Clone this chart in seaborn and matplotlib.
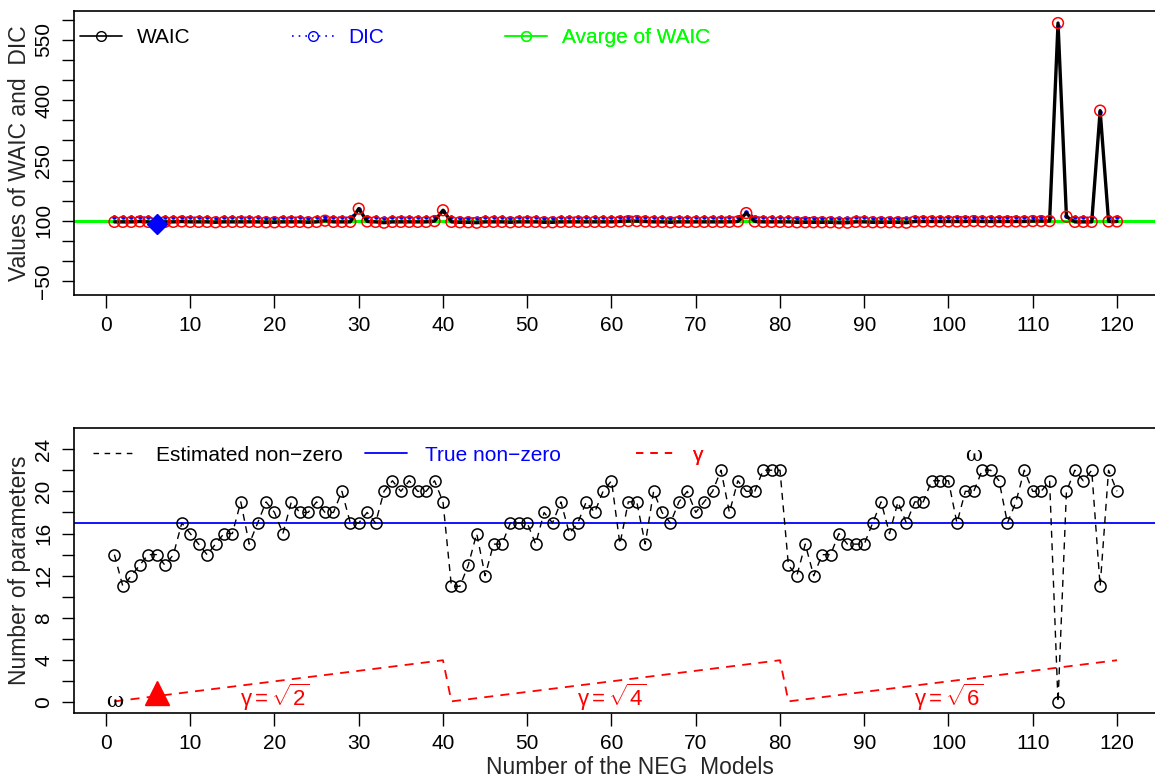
import numpy as np
import pandas as pd
import matplotlib
matplotlib.use("Agg")
import matplotlib.pyplot as plt
import seaborn as sns
from matplotlib.lines import Line2D

# ---------------- data ----------------
models = list(range(1, 121))

waic = [97, 97, 97, 98, 97, 93, 97, 97, 98, 97,
        97, 97, 96, 97, 97, 97, 97, 97, 96, 96,
        97, 97, 97, 96, 97, 100, 97, 97, 97, 130,
        98, 97, 95, 97, 97, 97, 97, 97, 99, 126,
        97, 96, 96, 95, 97, 97, 97, 96, 97, 97,
        97, 96, 96, 97, 97, 97, 97, 97, 97, 97,
        98, 99, 99, 98, 97, 97, 96, 97, 97, 97,
        97, 97, 97, 97, 98, 119, 98, 97, 97, 97,
        97, 96, 96, 96, 96, 96, 95, 95, 97, 97,
        96, 96, 96, 96, 95, 98, 98, 98, 98, 98,
        98, 98, 99, 98, 98, 98, 98, 98, 98, 99,
        99, 99, 592, 110, 97, 97, 97, 374, 98, 98]

dic = [108, 109, 108, 109, 108, 105, 108, 109, 109, 108,
       108, 108, 107, 108, 109, 108, 108, 108, 107, 107,
       108, 108, 108, 107, 108, 110, 108, 108, 108, 128,
       109, 108, 106, 108, 108, 108, 108, 108, 110, 124,
       108, 107, 107, 106, 108, 108, 108, 107, 108, 108,
       108, 107, 107, 108, 108, 108, 108, 108, 108, 108,
       109, 110, 110, 109, 108, 108, 107, 108, 108, 108,
       108, 108, 108, 108, 109, 122, 109, 108, 108, 108,
       108, 107, 107, 107, 107, 107, 106, 106, 108, 108,
       107, 107, 107, 107, 106, 109, 109, 109, 109, 109,
       109, 109, 110, 109, 109, 109, 109, 109, 109, 110,
       110, 110, 585, 112, 108, 108, 108, 370, 109, 109]

avg_waic = 99
best_model = 6
best_waic = 92

est_nonzero = [14, 11, 12, 13, 14, 14, 13, 14, 17, 16,
               15, 14, 15, 16, 16, 19, 15, 17, 19, 18,
               16, 19, 18, 18, 19, 18, 18, 20, 17, 17,
               18, 17, 20, 21, 20, 21, 20, 20, 21, 19,
               11, 11, 13, 16, 12, 15, 15, 17, 17, 17,
               15, 18, 17, 19, 16, 17, 19, 18, 20, 21,
               15, 19, 19, 15, 20, 18, 17, 19, 20, 18,
               19, 20, 22, 18, 21, 20, 20, 22, 22, 22,
               13, 12, 15, 12, 14, 14, 16, 15, 15, 15,
               17, 19, 16, 19, 17, 19, 19, 21, 21, 21,
               17, 20, 20, 22, 22, 21, 17, 19, 22, 20,
               20, 21, 0, 20, 22, 21, 22, 11, 22, 20]
true_nonzero = 17

gamma_x = [1, 40, 41, 80, 81, 120]
gamma_y = [0.1, 4.0, 0.1, 4.0, 0.1, 4.0]
gamma_label_x = [20, 60, 100]
gamma_roots = ["2", "4", "6"]

omega_x = [1, 103]
omega_y = [0.1, 23.4]
best_triangle_y = 0.9

top_yticks = list(range(-50, 601, 50))
top_ylabels = ["-50", "100", "250", "400", "550"]
bot_yticks = list(range(0, 25, 2))
bot_ylabels = ["0", "4", "8", "12", "16", "20", "24"]
xticks = list(range(0, 121, 10))

df_top = pd.DataFrame({"model": models, "WAIC": waic, "DIC": dic})
df_bot = pd.DataFrame({"model": models, "est": est_nonzero})

# ---------------- style ----------------
sns.set_theme(style="ticks")
plt.rcParams["font.family"] = ["Liberation Sans", "DejaVu Sans"]
plt.rcParams["axes.unicode_minus"] = True
plt.rcParams["mathtext.fontset"] = "custom"
plt.rcParams["mathtext.rm"] = "Liberation Sans"
plt.rcParams["mathtext.it"] = "Liberation Sans:italic"

TICK_FS = 15.0
LAB_FS = 16.5
RED = "#FF0000"
BLUE = "#0000FF"
GREEN = "#00FF00"

fig = plt.figure(figsize=(11.55, 7.81), dpi=100)
W, H = 1155.0, 781.0
x_left, x_right = 74.3, 1157.1
ax1 = fig.add_axes([x_left / W, 1 - 295 / H, (x_right - x_left) / W, (295 - 11) / H])
ax2 = fig.add_axes([x_left / W, 1 - 713 / H, (x_right - x_left) / W, (713 - 428) / H])

XLIM = (-3.76, 124.76)


def style_axes(ax, yticks, ylabels_shown):
    ax.set_xlim(*XLIM)
    ax.set_xticks(xticks)
    ax.set_xticklabels([str(v) for v in xticks], fontsize=TICK_FS)
    ax.set_yticks(yticks)
    lab = [str(v) if str(v) in ylabels_shown else "" for v in yticks]
    lab = [s.replace("-", "\u2212") for s in lab]
    ax.set_yticklabels(lab, fontsize=TICK_FS, rotation=90, va="center")
    ax.tick_params(axis="both", direction="out", length=9, width=1.0, color="black",
                   labelcolor="black")
    ax.tick_params(axis="x", pad=6)
    ax.tick_params(axis="y", pad=6)
    for s in ax.spines.values():
        s.set_visible(True)
        s.set_color("black")
        s.set_linewidth(1.2)
    ax.grid(False)
    ax.set_facecolor("white")


# ---------------- top panel ----------------
ax1.axhline(avg_waic, color=GREEN, lw=2.2, zorder=1)
sns.lineplot(data=df_top, x="model", y="DIC", ax=ax1, color=BLUE, lw=1.3,
             linestyle=(0, (1, 3)), marker="o", markersize=2.5, markeredgecolor=BLUE,
             markerfacecolor=BLUE, estimator=None, sort=False, zorder=2)
sns.lineplot(data=df_top, x="model", y="WAIC", ax=ax1, color="black", lw=2.4,
             estimator=None, sort=False, zorder=3)
sns.scatterplot(data=df_top, x="model", y="WAIC", ax=ax1, marker="o", s=60,
                facecolors="none", edgecolors=RED, linewidths=1.1, zorder=4)
ax1.plot([best_model], [best_waic], marker="D", color=BLUE, markersize=10.5, zorder=5)
ax1.set_ylim(-85, 622)
style_axes(ax1, top_yticks, top_ylabels)
ax1.set_xlabel("")
ax1.set_ylabel("Values of WAIC and  DIC", fontsize=LAB_FS)
ax1.yaxis.set_label_coords(-0.040, 0.5)


def add_entry(ax, handle, label, x_px, y_frac, color, pad):
    leg = ax.legend([handle], [label], loc="center left",
                    bbox_to_anchor=((x_px - x_left) / (x_right - x_left), y_frac),
                    frameon=False, borderpad=0, borderaxespad=0,
                    handlelength=2.0, handletextpad=pad, fontsize=TICK_FS,
                    labelcolor=color, numpoints=1)
    ax.add_artist(leg)
    return leg


add_entry(ax1, Line2D([], [], color="black", lw=1.2, marker="o", mfc="none",
                      mec="black", ms=7), "WAIC", 80, 0.905, "black", 0.72)
add_entry(ax1, Line2D([], [], color=BLUE, lw=1.2, linestyle=(0, (1, 3)), marker="o",
                      mfc="none", mec=BLUE, ms=7), "DIC", 292, 0.905, BLUE, 0.72)
add_entry(ax1, Line2D([], [], color=GREEN, lw=1.2, marker="o", mfc="none",
                      mec=GREEN, ms=7), "Avarge of WAIC", 505, 0.905, GREEN, 0.72)

# ---------------- bottom panel ----------------
ax2.axhline(true_nonzero, color=BLUE, lw=1.3, zorder=1)
sns.lineplot(x=gamma_x, y=gamma_y, ax=ax2, color=RED, lw=1.3, linestyle=(0, (5, 4)),
             estimator=None, sort=False, zorder=2)
sns.lineplot(data=df_bot, x="model", y="est", ax=ax2, color="black", lw=1.0,
             linestyle=(0, (5, 4)), marker="o", markersize=8, markerfacecolor="none",
             markeredgecolor="black", markeredgewidth=1.1, estimator=None, sort=False,
             zorder=3)
ax2.plot([best_model], [best_triangle_y], marker="^", color=RED, markersize=17,
         linestyle="none", zorder=5)
for gx, gr in zip(gamma_label_x, gamma_roots):
    ax2.text(gx, 0.45, "\u03b3$=\\sqrt{" + gr + "}$", color=RED, fontsize=TICK_FS + 1,
             ha="center", va="center")
for ox, oy in zip(omega_x, omega_y):
    ax2.text(ox, oy, "\u03c9", fontsize=15, family="DejaVu Serif", ha="center",
             va="center", color="black")
ax2.set_ylim(-1.0, 26.0)
style_axes(ax2, bot_yticks, bot_ylabels)
ax2.set_ylabel("Number of parameters", fontsize=LAB_FS)
ax2.yaxis.set_label_coords(-0.040, 0.5)
ax2.set_xlabel("Number of the NEG  Models", fontsize=LAB_FS)
ax2.xaxis.set_label_coords((630 - x_left) / (x_right - x_left), -0.150)

add_entry(ax2, Line2D([], [], color="black", lw=1.0, linestyle=(0, (4, 4))),
          "Estimated non\u2212zero", 93, 0.905, "black", 1.0)
add_entry(ax2, Line2D([], [], color=BLUE, lw=1.3),
          "True non\u2212zero", 365, 0.905, BLUE, 0.9)
add_entry(ax2, Line2D([], [], color=RED, lw=1.3, linestyle=(0, (4, 4))),
          "\u03b3", 636, 0.905, RED, 0.75)

fig.savefig("out.png", dpi=100)
